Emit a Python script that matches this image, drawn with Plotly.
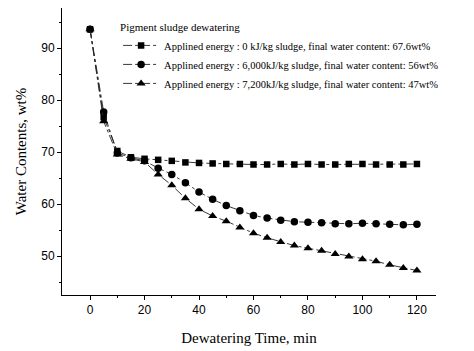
import plotly.graph_objects as go

time = [0, 5, 10, 15, 20, 25, 30, 35, 40, 45, 50, 55, 60, 65, 70, 75, 80, 85, 90, 95, 100, 105, 110, 115, 120]
wc_0 = [93.6, 76.7, 70.2, 69.0, 68.7, 68.5, 68.3, 68.0, 67.9, 67.8, 67.7, 67.7, 67.6, 67.6, 67.7, 67.6, 67.7, 67.6, 67.6, 67.7, 67.7, 67.6, 67.6, 67.6, 67.7]
wc_6000 = [93.6, 77.7, 69.8, 68.9, 68.3, 66.9, 65.7, 64.1, 62.3, 60.9, 59.7, 58.7, 57.8, 57.3, 56.9, 56.6, 56.5, 56.4, 56.2, 56.2, 56.3, 56.2, 56.1, 56.0, 56.1]
wc_7200 = [93.6, 75.9, 69.5, 68.7, 68.1, 65.7, 63.6, 61.1, 59.0, 57.7, 56.7, 55.5, 54.4, 53.5, 52.7, 52.0, 51.5, 51.0, 50.4, 49.9, 49.4, 49.0, 48.3, 47.7, 47.2]

names = [
    "Applined energy : 0 kJ/kg sludge, final water content: 67.6wt%",
    "Applined energy : 6,000kJ/kg sludge, final water content: 56wt%",
    "Applined energy : 7,200kJ/kg sludge, final water content: 47wt%",
]
series = [wc_0, wc_6000, wc_7200]
symbols = ["square", "circle", "triangle-up"]
sizes = [6.5, 7.5, 8]

fig = go.Figure()
for y, n, s, sz in zip(series, names, symbols, sizes):
    fig.add_trace(go.Scatter(
        x=time, y=y, name=n, mode="lines+markers",
        line=dict(color="#222222", width=0.9, dash="dashdot"),
        marker=dict(symbol=s, size=sz, color="black"),
    ))

serif = "Liberation Serif, Times New Roman, serif"
sans = "Liberation Sans, Arial, sans-serif"

fig.update_layout(
    width=474, height=351,
    margin=dict(l=62, r=38, t=8, b=56),
    paper_bgcolor="white", plot_bgcolor="white",
    showlegend=True,
    legend=dict(
        x=0.15, y=0.97, xanchor="left", yanchor="top",
        bgcolor="rgba(0,0,0,0)",
        font=dict(family=serif, size=10.5, color="black"),
        title=dict(text="Pigment sludge dewatering", font=dict(family=serif, size=11, color="black")),
        tracegroupgap=0, itemwidth=36,
        entrywidth=0,
    ),
    xaxis=dict(
        range=[-10.3, 127], tickvals=[0, 20, 40, 60, 80, 100, 120],
        ticks="outside", ticklen=4, tickcolor="black",
        minor=dict(tickvals=[10, 30, 50, 70, 90, 110], ticks="outside", ticklen=2, tickcolor="black"),
        showline=True, linecolor="black", linewidth=1, showgrid=False, zeroline=False,
        tickfont=dict(family=sans, size=12, color="black"),
        title=dict(text="Dewatering Time, min", font=dict(family=serif, size=15, color="black"), standoff=16),
    ),
    yaxis=dict(
        range=[42.5, 97.7], tickvals=[50, 60, 70, 80, 90],
        ticks="outside", ticklen=4, tickcolor="black",
        minor=dict(tickvals=[45, 55, 65, 75, 85, 95], ticks="outside", ticklen=2, tickcolor="black"),
        showline=True, linecolor="black", linewidth=1, showgrid=False, zeroline=False,
        tickfont=dict(family=sans, size=12, color="black"),
        title=dict(text="Water Contents, wt%", font=dict(family=serif, size=15, color="black"), standoff=10),
    ),
)

fig.write_html("out.html")
